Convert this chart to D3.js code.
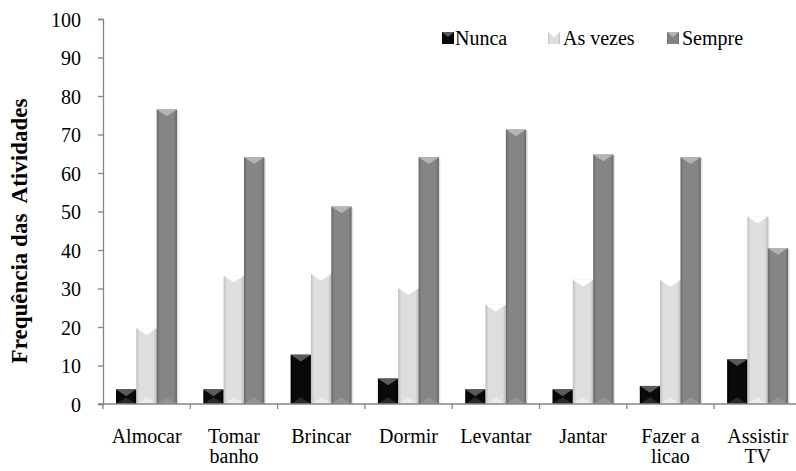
<!DOCTYPE html>
<html><head><meta charset="utf-8"><script src="https://cdn.jsdelivr.net/npm/d3@7"></script></head>
<body style="margin:0">
<script>
var categories = [["Almocar"], ["Tomar", "banho"], ["Brincar"], ["Dormir"], ["Levantar"], ["Jantar"], ["Fazer a", "licao"], ["Assistir", "TV"]];
var seriesNames = ["Nunca", "As vezes", "Sempre"];
var nunca = [3.8, 3.8, 12.8, 6.6, 3.8, 3.8, 4.7, 11.6];
var asVezes = [19.7, 33.3, 33.8, 30.1, 25.8, 32.3, 32.2, 48.7];
var sempre = [76.5, 64.1, 51.3, 64.1, 71.3, 64.8, 64.1, 40.5];
var yTicks = [0, 10, 20, 30, 40, 50, 60, 70, 80, 90, 100];

var width = 796;
var height = 471;
var margin = { left: 103, top: 19, bottom: 67 };
var plotW = 87.3 * 8;
var y0 = height - margin.bottom;
var FONT = "Liberation Serif";

var colors = [
  { main: "#0a0a0a", edge: "#000000", top: "#5a5a5a", bottom: "#2a2a2a" },
  { main: "#dedede", edge: "#bdbdbd", top: "#ffffff", bottom: "#ebebeb" },
  { main: "#858585", edge: "#686868", top: "#b4b4b4", bottom: "#949494" }
];
var series = [nunca, asVezes, sempre];

var svg = d3.select("body").append("svg").attr("width", width).attr("height", height)
  .attr("font-family", FONT);
var defs = svg.append("defs");
colors.forEach(function(c, i) {
  var g = defs.append("linearGradient").attr("id", "grad" + i).attr("x1", "0").attr("x2", "1").attr("y1", "0").attr("y2", "0");
  g.append("stop").attr("offset", "0").attr("stop-color", c.edge);
  g.append("stop").attr("offset", "0.15").attr("stop-color", c.main);
  g.append("stop").attr("offset", "0.85").attr("stop-color", c.main);
  g.append("stop").attr("offset", "1").attr("stop-color", c.edge);
});

var x = d3.scaleBand().domain(d3.range(categories.length)).range([margin.left, margin.left + plotW]);
var xInner = d3.scaleBand().domain(d3.range(3)).range([13, 87.3 - 13.3]);
var y = d3.scaleLinear().domain([0, 100]).range([y0, margin.top]);

// bars
var groups = svg.selectAll(".cat").data(categories).enter().append("g")
  .attr("transform", function(d, i) { return "translate(" + x(i) + ",0)"; });

groups.each(function(d, ci) {
  var g = d3.select(this);
  series.forEach(function(s, si) {
    var bx = xInner(si), bw = xInner.bandwidth();
    var by = y(s[ci]), bh = y0 - by;
    var b = Math.min(7, bw / 3, bh / 2);
    g.append("rect").attr("x", bx + 1.5).attr("y", by + 1).attr("width", bw).attr("height", bh - 1)
      .attr("fill", "#000").attr("opacity", 0.12);
    g.append("rect").attr("x", bx).attr("y", by).attr("width", bw).attr("height", bh)
      .attr("fill", "url(#grad" + si + ")");
    g.append("path")
      .attr("d", "M" + bx + "," + by + "L" + (bx + bw) + "," + by + "L" + (bx + bw / 2) + "," + (by + b) + "Z")
      .attr("fill", colors[si].top);
    g.append("path")
      .attr("d", "M" + bx + "," + y0 + "L" + (bx + bw) + "," + y0 + "L" + (bx + bw / 2) + "," + (y0 - b) + "Z")
      .attr("fill", colors[si].bottom);
  });
});

// y axis
var yAxis = d3.axisLeft(y).tickValues(yTicks).tickSize(5).tickPadding(17);
var ya = svg.append("g").attr("transform", "translate(" + margin.left + ",0)").call(yAxis);
ya.attr("font-family", FONT).attr("font-size", 20);
ya.select(".domain").attr("stroke", "#868686").attr("stroke-width", 1.3);
ya.selectAll(".tick line").attr("stroke", "#868686").attr("stroke-width", 1.3);
ya.selectAll("text").attr("dy", "0.35em").attr("fill", "#000");

// x axis
svg.append("line").attr("x1", margin.left - 5).attr("x2", width).attr("y1", y0).attr("y2", y0)
  .attr("stroke", "#868686").attr("stroke-width", 1.3);
svg.selectAll(".xtick").data(d3.range(categories.length)).enter().append("line")
  .attr("x1", function(i) { return x(i); }).attr("x2", function(i) { return x(i); })
  .attr("y1", y0).attr("y2", y0 + 5).attr("stroke", "#868686").attr("stroke-width", 1.3);

svg.selectAll(".xlab").data(categories).enter().append("text")
  .attr("x", function(d, i) { return x(i) + x.bandwidth() / 2; })
  .attr("y", 443)
  .attr("text-anchor", "middle")
  .attr("font-family", FONT)
  .attr("font-size", 20)
  .each(function(d) {
    var t = d3.select(this);
    d.forEach(function(line, k) {
      t.append("tspan").attr("x", t.attr("x")).attr("dy", k === 0 ? 0 : 20).text(line);
    });
  });

// y title
svg.append("text")
  .attr("transform", "translate(27,231) rotate(-90)")
  .attr("text-anchor", "middle")
  .attr("font-family", FONT)
  .attr("font-size", 23).attr("font-weight", "bold")
  .style("white-space", "pre")
  .text("Frequência das  Atividades");

// legend
var legendX = [442, 548, 667];
var lg = svg.selectAll(".leg").data(seriesNames).enter().append("g")
  .attr("transform", function(d, i) { return "translate(" + legendX[i] + ",32)"; });
lg.append("rect").attr("width", 12).attr("height", 12).attr("fill", function(d, i) { return "url(#grad" + i + ")"; });
lg.append("path").attr("d", "M0,0L12,0L6,5Z").attr("fill", function(d, i) { return colors[i].top; });
lg.append("text").attr("x", function(d, i) { return i === 0 ? 13 : 15; }).attr("y", 13)
  .attr("font-family", FONT)
  .attr("font-size", 20).text(function(d) { return d; });
</script>
</body>
</html>
